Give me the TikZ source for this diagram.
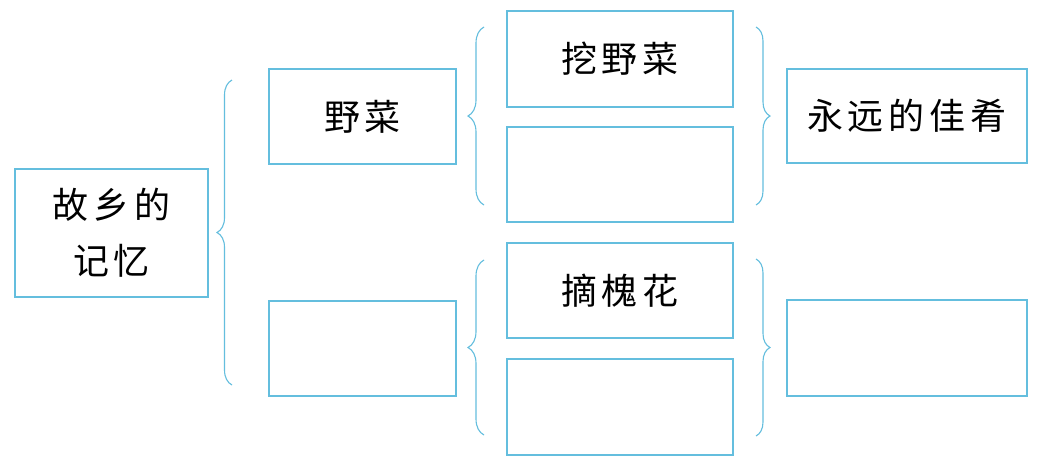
\documentclass[tikz,border=0pt]{standalone}
\usepackage{fontspec}
\newfontfamily\cjk{Noto Sans CJK SC}
\usetikzlibrary{decorations.pathreplacing}
\definecolor{lineblue}{RGB}{100,190,222}
\newcommand\cgap{\hspace{5pt}}
\tikzset{
  box/.style={draw=lineblue, line width=1.1pt, rectangle, inner sep=0pt,
    font=\cjk\fontsize{36}{56}\selectfont, align=center, text=black},
  bracel/.style={draw=lineblue, line width=1.1pt, decorate,
    decoration={brace, amplitude=15pt, aspect=0.5}},
}
\begin{document}
\begin{tikzpicture}[x=1pt,y=-1pt]
\useasboundingbox (0,0) rectangle (1041,459);
\fill[white] (0,0) rectangle (1041,459);
% nodes
\node[box, minimum width=193pt, minimum height=128pt] (mem) at (111.5,233) {故\cgap 乡\cgap 的\\记\cgap 忆};
\node[box, minimum width=187pt, minimum height=95pt] (yecai) at (362.5,116.5) {野\cgap 菜};
\node[box, minimum width=187pt, minimum height=95pt] (l2) at (362.5,348.5) {};
\node[box, minimum width=226pt, minimum height=96pt] (wa) at (620,59) {挖\cgap 野\cgap 菜};
\node[box, minimum width=226pt, minimum height=95pt] (e1) at (620,174.5) {};
\node[box, minimum width=226pt, minimum height=95pt] (zhai) at (620,290.5) {摘\cgap 槐\cgap 花};
\node[box, minimum width=226pt, minimum height=96pt] (e2) at (620,407) {};
\node[box, minimum width=240pt, minimum height=94pt] (jy) at (907,116) {永\cgap 远\cgap 的\cgap 佳\cgap 肴};
\node[box, minimum width=240pt, minimum height=96pt] (r2) at (907,348) {};
% brace end points
\coordinate (b1t) at (232,80);  \coordinate (b1b) at (232,385);
\coordinate (b2t) at (484,27);  \coordinate (b2b) at (484,205);
\coordinate (b3t) at (484,260); \coordinate (b3b) at (484,435);
\coordinate (b4t) at (756,27);  \coordinate (b4b) at (756,205);
\coordinate (b5t) at (756,259); \coordinate (b5b) at (756,436);
% left-pointing braces
\draw[bracel] (b1b) -- (b1t);
\draw[bracel, decoration={amplitude=16pt}] (b2b) -- (b2t);
\draw[bracel, decoration={amplitude=16pt}] (b3b) -- (b3t);
% right-pointing braces
\draw[bracel, decoration={amplitude=14pt}] (b4t) -- (b4b);
\draw[bracel, decoration={amplitude=14pt}] (b5t) -- (b5b);
\end{tikzpicture}
\end{document}
